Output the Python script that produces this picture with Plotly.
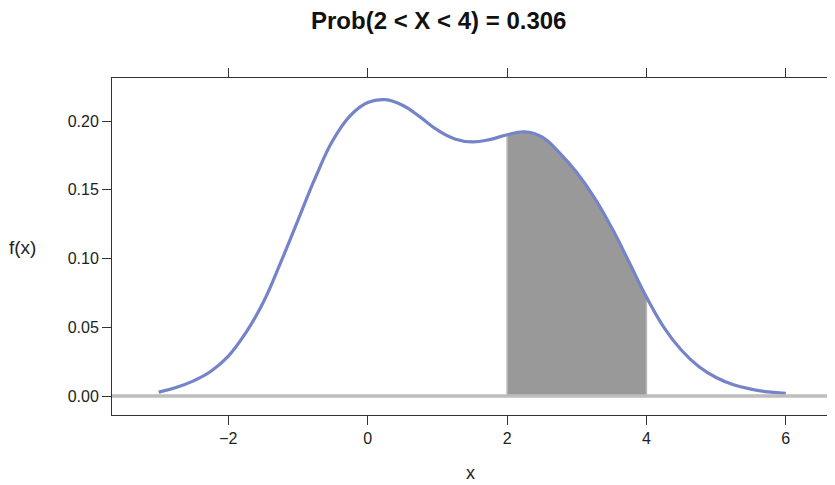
import plotly.graph_objects as go

# density values
x_vals = [-3.0, -2.75, -2.5, -2.25, -2.0, -1.75, -1.5, -1.25, -1.0, -0.75, -0.5, -0.25,
          0.0, 0.25, 0.5, 0.75, 1.0, 1.25, 1.5, 1.75, 2.0, 2.25, 2.5, 2.75, 3.0, 3.25,
          3.5, 3.75, 4.0, 4.25, 4.5, 4.75, 5.0, 5.25, 5.5, 5.75, 6.0]
f_vals = [0.0028, 0.0062, 0.0110, 0.0180, 0.0290, 0.0460, 0.0680, 0.0970, 0.1280, 0.1590,
          0.1860, 0.2040, 0.2135, 0.2155, 0.2115, 0.2030, 0.1935, 0.1870, 0.1848, 0.1865,
          0.1900, 0.1922, 0.1885, 0.1770, 0.1625, 0.1445, 0.1225, 0.0975, 0.0720, 0.0500,
          0.0335, 0.0215, 0.0135, 0.0082, 0.0050, 0.0030, 0.0020]
lo, hi = 2, 4
prob_text = "Prob(2 < X < 4) = 0.306"
x_ticks = [-2, 0, 2, 4, 6]
y_ticks = [0.00, 0.05, 0.10, 0.15, 0.20]
y_tick_labels = ["0.00", "0.05", "0.10", "0.15", "0.20"]

sx = [x for x in x_vals if lo <= x <= hi]
sy = [f for x, f in zip(x_vals, f_vals) if lo <= x <= hi]

FONT = "Liberation Sans, Arial, sans-serif"

fig = go.Figure()
fig.add_trace(go.Scatter(x=sx, y=sy, mode="lines", fill="tozeroy",
                         fillcolor="#999999",
                         line=dict(color="#999999", width=0.5, shape="spline", smoothing=1.2),
                         hoverinfo="skip", showlegend=False))
fig.add_trace(go.Scatter(x=[sx[0], sx[0], None, sx[-1], sx[-1]],
                         y=[0, sy[0], None, 0, sy[-1]], mode="lines",
                         line=dict(color="#b8b8b8", width=1.5), showlegend=False))
fig.add_trace(go.Scatter(x=x_vals, y=f_vals, mode="lines",
                         line=dict(color="#7584C8", width=3.2, shape="spline", smoothing=1.2),
                         showlegend=False))
fig.add_shape(type="line", xref="paper", yref="y", x0=0, x1=1, y0=0, y1=0,
              line=dict(color="#bdbdbd", width=3.5), layer="above")

axis_common = dict(showline=True, linecolor="#333333", linewidth=1, mirror="ticks",
                   ticks="outside", ticklen=9, tickcolor="#333333", tickwidth=1,
                   showgrid=False, zeroline=False, automargin=False,
                   tickfont=dict(family=FONT, size=16, color="#222222"))

# the page body has an 8px margin, so the figure is 8px smaller and the margins shift
fig.update_layout(
    width=827, height=477,
    margin=dict(l=104, r=6, t=70, b=70, autoexpand=False),
    paper_bgcolor="white", plot_bgcolor="white",
    xaxis=dict(range=[-3.67, 6.62], tickvals=x_ticks, **axis_common),
    yaxis=dict(range=[-0.0138, 0.2313], tickvals=y_ticks, ticktext=y_tick_labels, **axis_common),
    annotations=[
        dict(text="<b>" + prob_text + "</b>", xref="paper", yref="paper", x=0.456, y=1.172,
             showarrow=False, xanchor="center", yanchor="middle",
             font=dict(family=FONT, size=24, color="#111111")),
        dict(text="f(x)", xref="paper", yref="paper", x=-0.1255, y=0.4985,
             showarrow=False, xanchor="center", yanchor="middle",
             font=dict(family=FONT, size=19, color="#222222")),
        dict(text="x", xref="paper", yref="paper", x=0.5, y=-0.2076,
             showarrow=False, xanchor="center", yanchor="bottom",
             font=dict(family=FONT, size=18, color="#222222")),
    ],
)

fig.write_html("out.html")
